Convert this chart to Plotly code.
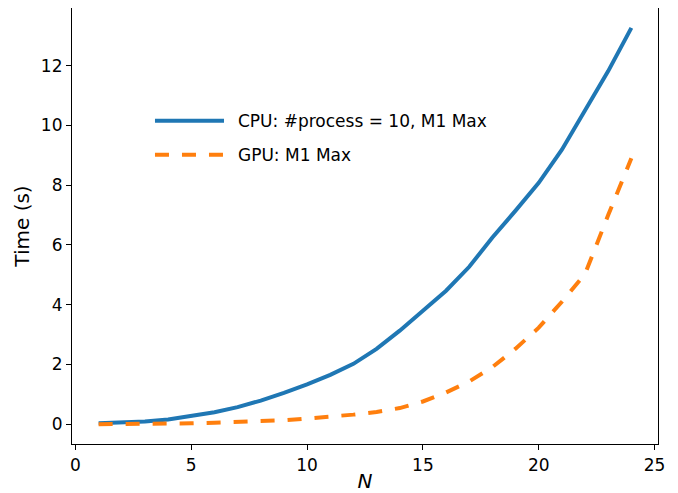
import plotly.graph_objects as go

N = list(range(1, 25))
cpu_time = [0.03, 0.05, 0.09, 0.16, 0.27, 0.40, 0.57, 0.79, 1.05, 1.33, 1.65, 2.02,
            2.52, 3.13, 3.80, 4.47, 5.27, 6.25, 7.15, 8.08, 9.19, 10.53, 11.82, 13.27]
gpu_time = [0.0, 0.0, 0.01, 0.02, 0.03, 0.05, 0.07, 0.10, 0.13, 0.19, 0.24, 0.32,
            0.41, 0.54, 0.76, 1.06, 1.43, 1.91, 2.53, 3.23, 4.10, 5.03, 7.00, 8.90]
cpu_name = "CPU: #process = 10, M1 Max"
gpu_name = "GPU: M1 Max"

BLUE = "#1f77b4"
ORANGE = "#ff7f0e"
FONT = "DejaVu Sans"
DASH = "14px,13px"

# matplotlib-like 5% data margins
xmin, xmax = min(N), max(N)
xpad = 0.05 * (xmax - xmin)
allv = cpu_time + gpu_time
ymin, ymax = min(allv), max(allv)
ypad = 0.05 * (ymax - ymin)

fig = go.Figure()
fig.add_trace(go.Scatter(x=N, y=cpu_time, mode="lines", name=cpu_name,
                         line=dict(color=BLUE, width=4)))
fig.add_trace(go.Scatter(x=N, y=gpu_time, mode="lines", name=gpu_name,
                         line=dict(color=ORANGE, width=4, dash=DASH)))

axis_common = dict(showline=True, linecolor="black", linewidth=1.2, mirror=True,
                   ticks="outside", ticklen=5, tickwidth=1.2, tickcolor="black",
                   showgrid=False, zeroline=False, automargin=False,
                   tickfont=dict(family=FONT, size=17, color="black"))

fig.update_xaxes(range=[xmin - xpad, xmax + xpad], tickvals=[0, 5, 10, 15, 20, 25],
                 title=dict(text="<i>N</i>", font=dict(family=FONT, size=20, color="black"),
                            standoff=4),
                 **axis_common)
fig.update_yaxes(range=[ymin - ypad, ymax + ypad], tickvals=[0, 2, 4, 6, 8, 10, 12],
                 title=dict(text="Time (s)", font=dict(family=FONT, size=20, color="black"),
                            standoff=5),
                 **axis_common)

# manual legend (matplotlib style, no frame)
leg_x0, leg_x1, leg_tx = 0.1416, 0.2594, 0.2800
leg_rows = [(0.7414, cpu_name, BLUE, "solid"), (0.6636, gpu_name, ORANGE, DASH)]
for yy, name, col, dash in leg_rows:
    fig.add_shape(type="line", xref="paper", yref="paper", x0=leg_x0, x1=leg_x1,
                  y0=yy, y1=yy, line=dict(color=col, width=4, dash=dash))
    fig.add_annotation(xref="paper", yref="paper", x=leg_tx, y=yy, text=name,
                       showarrow=False, xanchor="left", yanchor="middle",
                       font=dict(family=FONT, size=17, color="black"))

# page body has an 8px margin; size the figure so it fits the 678x493 window
fig.update_layout(width=670, height=485, showlegend=False,
                  margin=dict(l=64, r=20, t=0, b=49),
                  paper_bgcolor="white", plot_bgcolor="white",
                  font=dict(family=FONT, size=17, color="black"))

fig.write_html("out.html")
